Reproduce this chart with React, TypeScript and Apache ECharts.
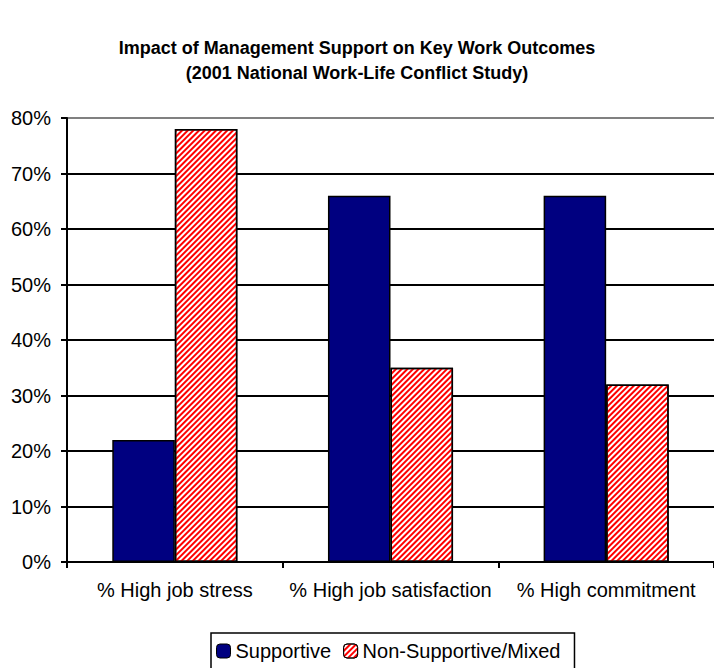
import React, { useEffect, useRef } from "react";
import * as echarts from "echarts";

const categories = ["% High job stress", "% High job satisfaction", "% High commitment"];
const supportive = [22, 66, 66];
const nonSupportive = [78, 35, 32];
const seriesNames = ["Supportive", "Non-Supportive/Mixed"];
const titleLines = [
  "Impact of Management Support on Key Work Outcomes",
  "(2001 National Work-Life Conflict Study)",
];

const FONT = "'Liberation Sans', Arial, sans-serif";

export default function App() {
  const ref = useRef<HTMLDivElement>(null);
  useEffect(() => {
    if (!ref.current) return;
    const chart = echarts.init(ref.current, null, { renderer: "svg" });
    const gridColors = ["#000", "#000", "#000", "#000", "#000", "#000", "#000", "#000", "#808080"];
    chart.setOption({
      animation: false,
      backgroundColor: "#fff",
      textStyle: { fontFamily: FONT },
      title: {
        text: titleLines.join("\n"),
        left: "center",
        top: 30,
        textStyle: { fontFamily: FONT, fontSize: 18, fontWeight: "bold", color: "#000", lineHeight: 25 },
      },
      legend: {
        left: 211,
        top: 633,
        itemWidth: 14,
        itemHeight: 14,
        itemGap: 12,
        itemStyle: { borderColor: "#000", borderWidth: 1 },
        borderColor: "#000",
        borderWidth: 1.5,
        padding: [8, 14, 8, 5],
        textStyle: { fontFamily: FONT, fontSize: 20, color: "#000" },
        data: seriesNames,
      },
      grid: { left: 67, right: 0, top: 118, bottom: 106, containLabel: false },
      xAxis: {
        type: "category",
        data: categories,
        axisLine: { lineStyle: { color: "#000", width: 2 } },
        axisTick: { show: true, length: 6, lineStyle: { color: "#000", width: 2 } },
        axisLabel: { fontFamily: FONT, fontSize: 20, color: "#000", margin: 18, interval: 0 },
      },
      yAxis: {
        type: "value",
        min: 0,
        max: 80,
        interval: 10,
        axisLine: { show: true, lineStyle: { color: "#000", width: 2 } },
        axisTick: { show: true, length: 6, lineStyle: { color: "#000", width: 2 } },
        axisLabel: { fontFamily: FONT, fontSize: 20, color: "#000", margin: 16, formatter: "{value}%" },
        splitLine: { show: true, lineStyle: { color: gridColors, width: 2 } },
      },
      series: [
        {
          name: seriesNames[0],
          type: "bar",
          data: supportive,
          barGap: "0%",
          barCategoryGap: "42%",
          itemStyle: { color: "#000080", borderColor: "#000", borderWidth: 1.5 },
        },
        {
          name: seriesNames[1],
          type: "bar",
          data: nonSupportive,
          barGap: "0%",
          barCategoryGap: "42%",
          itemStyle: {
            color: "#ffffff",
            borderColor: "#000",
            borderWidth: 1.5,
            decal: {
              symbol: "rect",
              symbolSize: 1,
              color: "#ff0000",
              backgroundColor: "#ffffff",
              dashArrayX: [1, 0],
              dashArrayY: [1.5, 1.5],
              rotation: -Math.PI / 4,
            },
          },
        },
      ],
    });
    return () => chart.dispose();
  }, []);
  return <div ref={ref} style={{ position: "absolute", left: 0, top: 0, width: 714, height: 668 }} />;
}
